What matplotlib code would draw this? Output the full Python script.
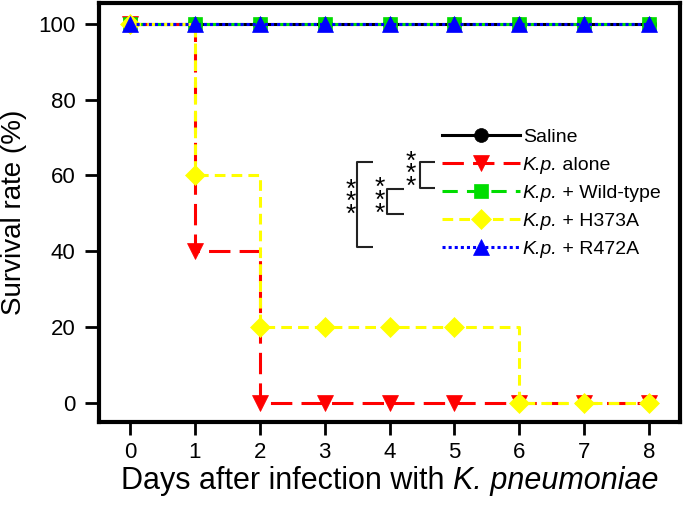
import matplotlib
matplotlib.use("Agg")
import matplotlib.pyplot as plt

plt.rcParams['font.family'] = ['Liberation Sans', 'DejaVu Sans']

days = [0, 1, 2, 3, 4, 5, 6, 7, 8]
saline = [100, 100, 100, 100, 100, 100, 100, 100, 100]
kp_alone = [100, 40, 0, 0, 0, 0, 0, 0, 0]
kp_wild = [100, 100, 100, 100, 100, 100, 100, 100, 100]
kp_h373a = [100, 60, 20, 20, 20, 20, 0, 0, 0]
kp_r472a = [100, 100, 100, 100, 100, 100, 100, 100, 100]

# (italic part, normal part) of each legend label
labels = [('', 'Saline'), ('K.p.', ' alone'), ('K.p.', ' + Wild-type'),
          ('K.p.', ' + H373A'), ('K.p.', ' + R472A')]
xlabel_parts = ('Days after infection with ', 'K. pneumoniae')
ylabel = 'Survival rate (%)'
yticks = [0, 20, 40, 60, 80, 100]

fig = plt.figure(figsize=(6.85, 5.08), dpi=100)
ax = fig.add_axes([99/685, 1-421.5/508, (680-99)/685, (421.5-3)/508])

series = [
    (saline, 'black', '-', None, 'o', 10),
    (kp_alone, 'red', '--', (7, 3), 'v', 12),
    (kp_wild, '#00dd00', '--', (5, 3), 's', 10),
    (kp_h373a, '#ffff00', '--', (3.5, 2), 'D', 10),
    (kp_r472a, 'blue', ':', (1, 1), '^', 12),
]
handles = []
for vals, col, ls, dash, mk, ms in series:
    line, = ax.plot(days, vals, drawstyle='steps-post', color=col, lw=2.2,
                    linestyle=ls, marker=mk, markersize=ms,
                    markerfacecolor=col, markeredgecolor=col, markeredgewidth=0.5)
    if dash is not None:
        line.set_dashes(dash)
    handles.append(line)

ax.set_xlim(-0.478, 8.478)
ax.set_ylim(-4.9, 105.5)
ax.set_xticks(days)
ax.set_yticks(yticks)
for s in ax.spines.values():
    s.set_linewidth(3)
ax.tick_params(axis='both', direction='out', width=2, labelsize=16)
ax.tick_params(axis='y', length=10, pad=7)
ax.tick_params(axis='x', length=9, pad=6)
ax.set_ylabel(ylabel, fontsize=20, labelpad=8)

# x label placeholder (used only for layout)
xl_fs = 22
xl = ax.set_xlabel(xlabel_parts[0] + xlabel_parts[1], fontsize=xl_fs, labelpad=2)

leg_fs = 14
leg = ax.legend(handles, [a + b for a, b in labels], loc='upper left',
                bbox_to_anchor=(442/685, 1-128/508), bbox_transform=fig.transFigure,
                frameon=False, fontsize=leg_fs, handlelength=4.0, handletextpad=0.15,
                labelspacing=0.54, borderpad=0, borderaxespad=0)

# resolve layout, then replace placeholders with mixed-style texts
fig.canvas.draw()
renderer = fig.canvas.get_renderer()
inv = fig.transFigure.inverted()

def mixed(placeholder, parts_styles, fs):
    bb = placeholder.get_window_extent(renderer)
    placeholder.set_text('')
    x, y = inv.transform((bb.x0, bb.y0))
    prev = None
    for txt, style in parts_styles:
        if not txt:
            continue
        t = fig.text(x, y, txt, ha='left', va='bottom', fontsize=fs, fontstyle=style)
        if prev is not None:
            pbb = prev.get_window_extent(renderer)
            t.set_position(inv.transform((pbb.x1, pbb.y0)))
        prev = t

mixed(xl, [(xlabel_parts[0], 'normal'), (xlabel_parts[1], 'italic')], xl_fs)
for txt, (ita, nor) in zip(leg.get_texts(), labels):
    if ita:
        mixed(txt, [(ita, 'italic'), (nor, 'normal')], leg_fs)

# significance brackets
bk = dict(color='#222222', lw=1.5)
def bracket(x0, x1, y0, y1):
    ax.plot([x1, x0, x0, x1], [y0, y0, y1, y1], **bk, solid_capstyle='butt')

bracket(4.47, 4.70, 63.6, 56.7)
bracket(3.96, 4.22, 56.5, 49.9)
bracket(3.50, 3.75, 63.6, 41.2)
for xs, ys in [(4.32, 60.4), (3.85, 53.3), (3.41, 53.0)]:
    ax.text(xs, ys, '*\n*\n*', ha='center', va='center', fontsize=19,
            linespacing=0.4)

fig.savefig('out.png', dpi=100)
